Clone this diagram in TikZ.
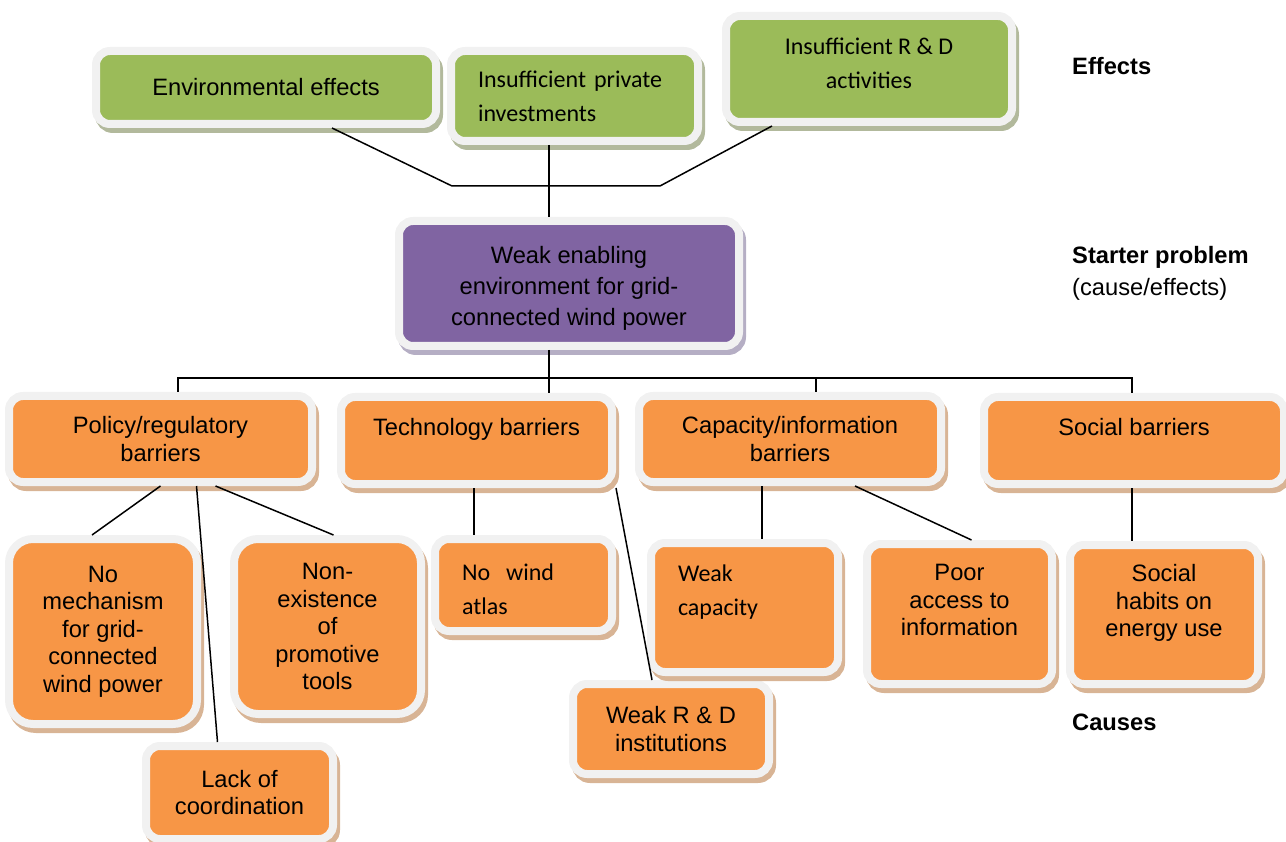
\documentclass[tikz,border=0pt]{standalone}
\usepackage{fontspec}
\setmainfont{Liberation Sans}
\newfontfamily\calfont{Carlito}
\usetikzlibrary{shadows}

\definecolor{gfill}{HTML}{9BBB59}
\definecolor{gshade}{HTML}{B2B99C}
\definecolor{pfill}{HTML}{8064A2}
\definecolor{pshade}{HTML}{B5AEC4}
\definecolor{ofill}{HTML}{F79646}
\definecolor{oshade}{HTML}{D8B495}
\definecolor{frame}{HTML}{F1F1F1}

\newcommand{\arialtext}{\fontsize{23.7}{27.5}\selectfont}
\newcommand{\calibritext}{\calfont\fontsize{24}{34}\selectfont}

\tikzset{
  basebox/.style={rounded corners=14pt, draw=frame, line width=8pt,
    align=center, inner sep=0pt, font=\arialtext, text=black},
  greenbox/.style={basebox, fill=gfill,
    drop shadow={shadow xshift=3pt, shadow yshift=-5pt, fill=gshade,
      draw=gshade, line width=8pt, opacity=1}},
  purplebox/.style={basebox, fill=pfill,
    drop shadow={shadow xshift=3pt, shadow yshift=-5pt, fill=pshade,
      draw=pshade, line width=8pt, opacity=1}},
  orangebox/.style={basebox, fill=ofill,
    drop shadow={shadow xshift=3pt, shadow yshift=-5pt, fill=oshade,
      draw=oshade, line width=8pt, opacity=1}},
  calleft/.style={font=\calibritext, align=left},
  calcentre/.style={font=\calibritext, align=center},
  link/.style={draw=black, line width=1.5pt},
  sidelabel/.style={font=\arialtext, anchor=base west, align=left, inner sep=0pt}
}

\begin{document}
\begin{tikzpicture}[x=1pt, y=-1pt]
\useasboundingbox (0,0) rectangle (1286,842);

% ---- effects ----
\node[greenbox, minimum width=340, minimum height=73] (g1) at (266,87.5)
  {Environmental effects};
\node[greenbox, calleft, text width=193, minimum width=247, minimum height=90] (g2) at (574.5,96)
  {Insufficient private\\investments};
\node[greenbox, calcentre, minimum width=286, minimum height=106] (g3) at (869,69)
  {Insufficient R \& D\\activities\\[-22pt]\mbox{}};

% ---- starter problem ----
\node[purplebox, font=\fontsize{23.7}{31}\selectfont, minimum width=340, minimum height=125] (pur) at (569,283.5)
  {\mbox{}\\[-4pt]Weak enabling\\environment for grid-\\connected wind power};

% ---- barriers ----
\node[orangebox, minimum width=303, minimum height=86] (pol) at (160.5,439)
  {Policy/regulatory\\barriers};
\node[orangebox, minimum width=271, minimum height=87] (tech) at (476.5,440.5)
  {Technology barriers\\\mbox{}};
\node[orangebox, minimum width=302, minimum height=86] (cap) at (790,439)
  {Capacity/information\\barriers};
\node[orangebox, minimum width=300, minimum height=87] (soc) at (1134,440.5)
  {Social barriers\\\mbox{}};

% ---- causes ----
\node[orangebox, rounded corners=24pt, minimum width=188, minimum height=185] (nomech) at (103,631.5)
  {No\\mechanism\\for grid-\\connected\\wind power};
\node[orangebox, rounded corners=24pt, minimum width=187, minimum height=175] (nonex) at (327.5,626.5)
  {Non-\\existence\\of\\promotive\\tools};
\node[orangebox, minimum width=187, minimum height=93] (lackco) at (239.5,792.5)
  {Lack of\\coordination};
\node[orangebox, calleft, text width=123, minimum width=177, minimum height=92] (wind) at (523.5,585)
  {\mbox{}\\[-9pt]No\ \ wind\\atlas};
\node[orangebox, minimum width=196, minimum height=90] (weakrd) at (671,729)
  {Weak R \& D\\institutions};
\node[orangebox, calleft, text width=133, minimum width=187, minimum height=129] (weakcap) at (744.5,607.5)
  {Weak\\capacity\\\mbox{}};
\node[orangebox, minimum width=185, minimum height=140] (poor) at (959.5,614)
  {Poor\\access to\\information\\\mbox{}};
\node[orangebox, minimum width=188, minimum height=139] (habits) at (1164,614.5)
  {Social\\habits on\\energy use\\\mbox{}};

% ---- side labels ----
\node[sidelabel] (lEff) at (1072,75) {\textbf{Effects}};
\node[sidelabel, font=\fontsize{23.7}{32}\selectfont] (lStart) at (1072,296)
  {\textbf{Starter problem}\\(cause/effects)};
\node[sidelabel] (lCause) at (1072,730) {\textbf{Causes}};

% ---- connector helpers ----
\coordinate (jL) at (452,186);
\coordinate (jR) at (660,186);
\coordinate (colMid) at (549,378);
\coordinate (busL) at (178,378);
\coordinate (busC) at (816,378);
\coordinate (busR) at (1132,378);
\coordinate (colWind) at (474,0);
\coordinate (colCap) at (762,0);

% effects joined to the starter problem
\draw[link] ([xshift=66pt]g1.south) -- (jL) -- (jR) -- ([xshift=-97pt]g3.south);
\draw[link] (colMid |- g2.south) -- (colMid |- pur.north);

% starter problem to the barrier row
\draw[link] (colMid |- pur.south) -- (colMid |- tech.north);
\draw[link] (busL |- pol.north) -- (busL) -- (busR) -- (busR |- soc.north);
\draw[link] (busC) -- (busC |- cap.north);

% barriers to their causes
\draw[link] (pol.south) -- ([xshift=-11pt]nomech.north);
\draw[link] ([xshift=36pt]pol.south) -- ([xshift=-22pt]lackco.north);
\draw[link] ([xshift=55pt]pol.south) -- ([xshift=6pt]nonex.north);
\draw[link] (colWind |- tech.south) -- (colWind |- wind.north);
\draw[link] (tech.south east) -- ([xshift=-19pt]weakrd.north);
\draw[link] (colCap |- cap.south) -- (colCap |- weakcap.north);
\draw[link] ([xshift=65pt]cap.south) -- ([xshift=12pt]poor.north);
\draw[link] (busR |- soc.south) -- (busR |- habits.north);
\end{tikzpicture}
\end{document}
